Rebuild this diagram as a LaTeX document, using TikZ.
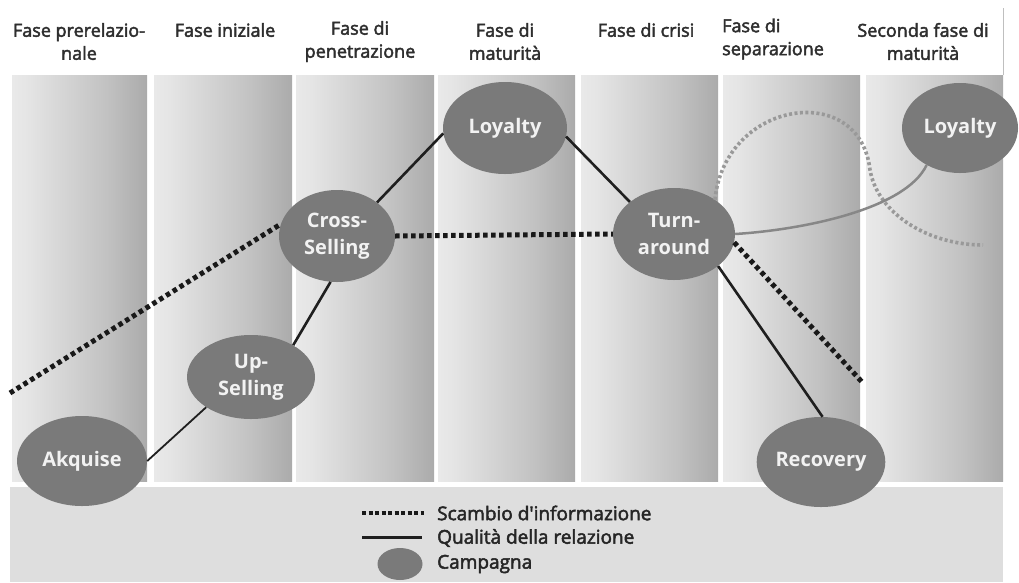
\documentclass[tikz,border=0pt]{standalone}
\usepackage{fontspec}
\setmainfont{Open Sans}
\newfontfamily\hdrfont{Open Sans}[FakeBold=2.5]
\usetikzlibrary{shapes.geometric}
\definecolor{camp}{RGB}{122,122,122}
\definecolor{lbl}{RGB}{242,242,242}
\definecolor{curvegray}{RGB}{135,135,135}
\pgfdeclarehorizontalshading{strip}{100bp}{color(0bp)=(black!9); color(12bp)=(black!5); color(30bp)=(black!10); color(45bp)=(black!17); color(60bp)=(black!24); color(75bp)=(black!33); color(88bp)=(black!42); color(100bp)=(black!50)}
\tikzset{
  cmp/.style={ellipse, fill=camp, inner sep=0pt, text=lbl, align=center,
    font=\fontsize{20}{27}\selectfont\bfseries},
  hdr/.style={align=center, text=black!82, inner sep=0pt,
    font=\hdrfont\fontsize{18}{23}\selectfont},
  qual/.style={draw=black!88, line width=2.6pt},
  info/.style={draw=black!90, line width=5pt, dash pattern=on 4.5pt off 3.5pt},
  softline/.style={draw=curvegray, line width=2.5pt},
  softdots/.style={draw=curvegray!85, line width=3.6pt, dash pattern=on 3pt off 2.5pt},
  legtext/.style={anchor=west, text=black!85, inner sep=0pt,
    font=\hdrfont\fontsize{19}{23}\selectfont}
}
\begin{document}
\begin{tikzpicture}[x=1pt,y=-1pt]
\useasboundingbox (0,0) rectangle (1019,582);
\fill[white] (0,0) rectangle (1019,582);
% columns
\foreach \x/\w in {12/135,154/138,296/138,438/137,581/137,723/137,866/137}
  \shade[shading=strip] (\x,75) rectangle ++(\w,406);
\draw[black!25, line width=0.8pt] (1003.5,8) -- (1003.5,75);
% legend band
\fill[black!13] (10,487) rectangle (1003,582);

% headers
\node[hdr] (h1) at (79,41.5) {Fase prerelazio-\\nale};
\node[hdr] (h2) at (225,30) {Fase iniziale};
\node[hdr] (h3) at (360,41.5) {Fase di\\penetrazione};
\node[hdr] (h4) at (505,41.5) {Fase di\\maturità};
\node[hdr] (h5) at (646,30) {Fase di crisi};
\node[hdr, align=left, anchor=west] (h6) at (722,39) {Fase di\\separazione};
\node[hdr] (h7) at (923,41.5) {Seconda fase di\\maturità};

% campaigns
\node[cmp, minimum width=130, minimum height=90] (ak) at (82,461) {Akquise};
\node[cmp, minimum width=128, minimum height=84] (up) at (251,377) {Up-\\Selling};
\node[cmp, minimum width=116, minimum height=92] (cs) at (337,236) {Cross-\\Selling};
\node[cmp, minimum width=124, minimum height=92] (ly) at (505,128) {Loyalty};
\node[cmp, minimum width=122, minimum height=92] (tn) at (674,234) {Turn-\\around};
\node[cmp, minimum width=128, minimum height=90] (rc) at (821,462) {Recovery};
\node[cmp, minimum width=116, minimum height=90] (ly2) at (960,128) {Loyalty};

% quality of relation
\draw[qual, line width=1.8pt] (ak.east) -- (up.214);
\draw[qual] (up.37) -- (cs.262);
\draw[qual] (cs.40) -- (ly.185);
\draw[qual] (ly.-8) -- (tn.144);
\draw[qual] (tn.-36) -- (rc.88);

% information exchange
\coordinate (l0) at (10,393);
\coordinate (r0) at (862,382);
\draw[info] (l0) -- (cs.168);
\draw[info] (cs.east) -- (tn.west);
\draw[info] (tn.-8) -- (r0);

% second maturity curves
\coordinate (d1) at (870,170);
\coordinate (d2) at (983,245);
\draw[softdots] (tn.40) .. controls (725,100) and (860,80) .. (d1)
  .. controls (878,215) and (930,245) .. (d2);
\draw[softline] (tn.east) .. controls (800,230) and (905,210) .. (ly2.228);

% legend
\coordinate (la1) at (362,513);
\coordinate (la2) at (424,513);
\coordinate (lb1) at (362,537);
\coordinate (lb2) at (422,537);
\draw[info, line width=4pt, dash pattern=on 4pt off 2.5pt] (la1) -- (la2);
\draw[qual, line width=3pt] (lb1) -- (lb2);
\node[ellipse, fill=camp, inner sep=0pt, minimum width=45, minimum height=32] (le) at (400,564) {};
\node[legtext] (t1) at (437,513) {Scambio d'informazione};
\node[legtext] (t2) at (437,538) {Qualità della relazione};
\node[legtext] (t3) at (437,564) {Campagna};
\end{tikzpicture}
\end{document}
